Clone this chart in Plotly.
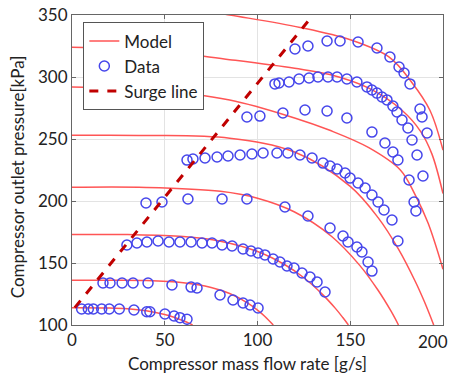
import plotly.graph_objects as go

# ---- Model speed lines (mass flow [g/s], pressure [kPa]) ----
model_x = [
    [0, 20, 30, 40, 50, 55, 60, 63, 65],
    [0, 20, 40, 60, 75, 85, 95, 100, 104, 108.5],
    [0, 30, 60, 80, 100, 115, 125, 135, 142, 146, 149],
    [0, 40, 80, 100, 120, 140, 155, 165, 172, 176],
    [0, 40, 85, 120, 150, 165, 176, 185, 190, 195],
    [0, 40, 85, 120, 139, 160, 177, 185, 192, 200],
    [0, 40, 85, 120, 139, 160, 178, 188, 194, 200],
    [0, 40, 85, 123, 150, 171, 183, 193, 200],
]
model_p = [
    [114, 113.8, 113.1, 111.4, 108.4, 106.2, 103.4, 101.5, 100],
    [136, 136, 135.8, 134.1, 130.3, 125.4, 117.5, 112, 106.9, 100],
    [173, 172.9, 171.4, 167.6, 159.3, 148.4, 138.1, 124.7, 113.4, 106, 100],
    [211, 210.9, 207.8, 202.2, 191.1, 171.4, 148.3, 128, 111.1, 100],
    [253, 252.9, 250.6, 239.5, 211.8, 186.6, 161.2, 135.3, 118.7, 100],
    [292, 290, 281.5, 267, 257, 243, 225, 205, 182, 145],
    [324, 322, 314, 307, 302, 291, 273, 256, 238, 206],
    [365, 361, 350, 340, 330, 316, 296, 273, 241],
]

# ---- Measured data, one list per speed line ----
data_x = [
    [5.2, 8.8, 11.5, 16, 20.1, 25.5, 33.4, 40.3, 42, 50.1, 55, 58.2, 62],
    [16.7, 20.5, 27, 32.9, 41, 53.9, 64.2, 67.4, 79.8, 86.8, 92.2, 96, 100.3],
    [29.6, 35, 40.4, 46.4, 52.3, 58.2, 64.2, 70.1, 75.5, 80.9, 86.3, 92.2, 96.5,
     100.3, 104, 108.4, 112.1, 115.9, 119.7, 124, 128.3, 132.1, 136.4],
    [39.9, 48.5, 62.5, 80.9, 94.3, 114.8, 127.2, 139.1, 146.1, 148.8, 153.6,
     156.3, 159.6, 161.7],
    [62, 65.2, 71.7, 78.2, 84.1, 90.6, 97, 103, 110.5, 116.4, 122.9, 129.4,
     135.3, 139.1, 142.9, 147.2, 149.9, 154.2, 158, 161.7, 165, 168.2, 172.5, 175.7],
    [94.3, 101.3, 113.7, 125.6, 137.5, 148.2, 161.7, 168.7, 173, 175.7, 181.7,
     184.4, 185.4],
    [109.4, 111.6, 117, 122.4, 127.8, 132.6, 138, 142.9, 148.2, 153.6, 159,
     161.7, 164.4, 167.1, 169.8, 173, 175.2, 177.9, 181.1, 183.3, 186, 189.2],
    [120.2, 127.2, 137.5, 144.5, 154.2, 164.4, 171.4, 176.3, 179, 182.2, 187.6,
     188.7, 191.4],
]
data_p = [
    [112.9, 112.9, 112.9, 112.9, 112.9, 112.9, 112.1, 110.7, 110.7, 108.9, 107.3, 105.9, 104.6],
    [133.9, 133.9, 133.9, 133.9, 133.9, 132.3, 130.6, 129.8, 124.2, 120.2, 117.7, 116.1, 113.7],
    [164.5, 166.1, 166.9, 167.7, 166.9, 166.9, 166.9, 166.1, 166.1, 164.5, 163.7, 161.3, 159.7,
     158.1, 156.5, 153.2, 150.8, 147.6, 146, 141.9, 138.7, 134.7, 126.6],
    [198.4, 199.2, 201.6, 201.6, 201.6, 195.2, 187.9, 178.2, 171.8, 166.9, 162.9,
     158.9, 150.8, 143.5],
    [233, 233.9, 234.7, 235.5, 236.3, 237.1, 237.9, 238.7, 238.7, 238.7, 237.1, 234.7,
     230.6, 228.2, 225.8, 222.6, 218.5, 214.5, 210.5, 204.8, 199.2, 192.7, 184.7, 167.7],
    [267.7, 268.5, 271, 273.4, 272.6, 266.9, 255.6, 246.8, 239.5, 233.1, 216.9,
     199.2, 191.9],
    [294.4, 295.2, 296, 298.4, 299.2, 300, 300, 300, 298.4, 296, 292,
     289.5, 287, 283.9, 281.5, 276.6, 271.8, 265.3, 258.9, 249.2, 237.1, 220.2],
    [322.6, 325, 329, 329, 328.2, 323.4, 316.1, 308.1, 303.2, 294.4, 274.2,
     267.7, 254.8],
]

# ---- Surge line ----
surge_x = [1.5, 130]
surge_p = [114, 350]

x_ticks = [0, 50, 100, 150, 200]
x_ticktext = ["0", "50", "100", "150", ""]   # last label drawn as annotation below
x_last_label = "200"
y_ticks = [100, 150, 200, 250, 300, 350]

x_title = "Compressor mass flow rate [g/s]"
y_title = "Compressor outlet pressure[kPa]"

MODEL_COLOR = "rgb(255,85,85)"
DATA_COLOR = "rgb(70,70,235)"
SURGE_COLOR = "rgb(192,0,0)"

fig = go.Figure()

for i, (mx, mp) in enumerate(zip(model_x, model_p)):
    fig.add_trace(go.Scatter(
        x=mx, y=mp, mode="lines", name="Model",
        line=dict(color=MODEL_COLOR, width=1.5, shape="spline", smoothing=1.0),
        legendgroup="model", showlegend=(i == 0),
    ))

all_dx = [v for row in data_x for v in row]
all_dp = [v for row in data_p for v in row]
fig.add_trace(go.Scatter(
    x=all_dx, y=all_dp, mode="markers", name="Data",
    marker=dict(symbol="circle-open", size=10, color=DATA_COLOR,
                line=dict(width=1.5, color=DATA_COLOR)),
))

fig.add_trace(go.Scatter(
    x=surge_x, y=surge_p, mode="lines", name="Surge line",
    line=dict(color=SURGE_COLOR, width=3, dash="dash"),
))

axis_common = dict(
    showline=True, linecolor="#666", linewidth=1, mirror="ticks",
    ticks="inside", ticklen=4, tickcolor="#666",
    showgrid=True, gridcolor="#e3e3e3", gridwidth=1,
    zeroline=False, automargin=False,
    tickfont=dict(size=17, color="#222"),
)

fig.update_layout(
    width=456, height=381,
    margin=dict(l=72, r=13, t=15, b=56, autoexpand=False),
    paper_bgcolor="white", plot_bgcolor="white",
    font=dict(family="Lato, Carlito, sans-serif", size=17, color="#222"),
    xaxis=dict(range=[0, 200], tickvals=x_ticks, ticktext=x_ticktext,
               **axis_common),
    yaxis=dict(range=[100, 350], tickvals=y_ticks, **axis_common),
    legend=dict(x=0.03, y=0.977, xanchor="left", yanchor="top",
                bordercolor="#555", borderwidth=1.2, bgcolor="white",
                font=dict(size=17), tracegroupgap=0, itemwidth=30),
    showlegend=True,
    annotations=[
        dict(text=x_last_label, xref="x", yref="paper", x=x_ticks[-1], y=-0.052,
             xshift=-10, xanchor="center", yanchor="middle", showarrow=False,
             font=dict(size=17, color="#222")),
        dict(text=x_title, xref="paper", yref="paper", x=0.4717, y=-0.1226,
             xanchor="center", yanchor="middle", showarrow=False,
             font=dict(size=17, color="#222")),
        dict(text=y_title, xref="paper", yref="paper", x=-0.148, y=0.477,
             xanchor="center", yanchor="middle", textangle=-90, showarrow=False,
             font=dict(size=17, color="#222")),
    ],
)

fig.write_html("out.html", config={"displayModeBar": False},
               post_script="document.body.style.margin='0';")
